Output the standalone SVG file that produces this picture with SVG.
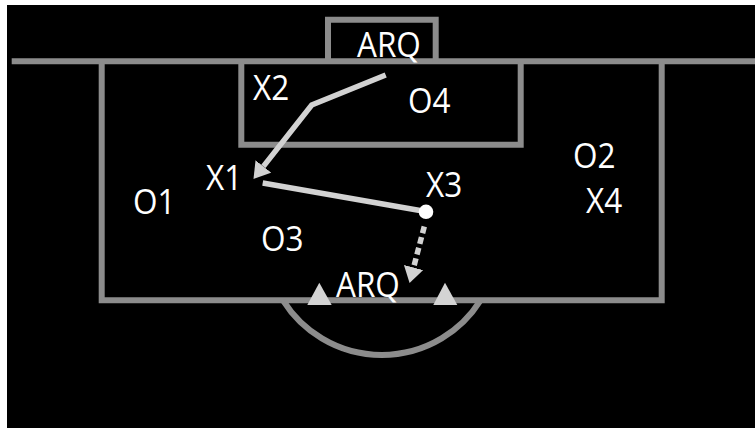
<svg xmlns="http://www.w3.org/2000/svg" width="755" height="428" viewBox="0 0 755 428">
  <defs>
    <style>
      .field { fill: none; stroke: #8c8c8c; stroke-width: 6; }
      .conn { fill: none; stroke: #d2d2d2; stroke-width: 5.5; }
      .dash { stroke-dasharray: 7 4; }
      .lbl { font-family: "Open Sans", "Noto Sans", sans-serif; font-size: 35px; fill: #ffffff; }
      .cone { fill: #d3d3d3; }
    </style>
    <marker id="head" markerUnits="userSpaceOnUse" viewBox="0 0 16 20" markerWidth="16" markerHeight="20" refX="0" refY="10" orient="auto">
      <path d="M0,0 L16,10 L0,20 Z" fill="#d2d2d2"/>
    </marker>
  </defs>
  <rect x="0" y="0" width="755" height="428" fill="#ffffff"/>
  <rect x="7" y="5" width="748" height="423" fill="#000000"/>

  <g id="pitch">
    <path class="field" d="M11.7,61.3 H755"/>
    <path class="field" d="M328,61.3 V19.7 H435.7 V61.3"/>
    <path class="field" d="M241.3,61.3 V144.7 H520.7 V61.3"/>
    <path class="field" d="M101.7,61.3 V300.3 H661.7 V61.3"/>
    <path class="field" d="M283,300.3 A116.6 116.6 0 0 0 480.5 300.3"/>
    <polygon class="cone" points="319.3,282.7 307.3,305 331.7,305"/>
    <polygon class="cone" points="445,282.7 433.3,305 457.3,305"/>
  </g>

  <g id="connectors">
    <polyline class="conn" points="385.7,75 311.7,105 263.4,166.4" marker-end="url(#head)"/>
    <line class="conn" x1="262.7" y1="183" x2="420" y2="210.5"/>
    <line class="conn dash" x1="424.3" y1="226.5" x2="413.6" y2="267.5" marker-end="url(#head)"/>
  </g>

  <g id="ball"><circle cx="426" cy="211.8" r="7.3" fill="#ffffff"/></g>

  <g id="arq-top"><text class="lbl" transform="translate(357,57) scale(0.9,1)">ARQ</text></g>
  <g id="x2"><text class="lbl" transform="translate(253,100) scale(0.9,1)">X2</text></g>
  <g id="o4"><text class="lbl" transform="translate(408,112.8) scale(0.9,1)">O4</text></g>
  <g id="x1"><text class="lbl" transform="translate(206,189.5) scale(0.9,1)">X1</text></g>
  <g id="o1"><text class="lbl" transform="translate(133,213.5) scale(0.9,1)">O1</text></g>
  <g id="o3"><text class="lbl" transform="translate(261,251) scale(0.9,1)">O3</text></g>
  <g id="x3"><text class="lbl" transform="translate(426,196.8) scale(0.9,1)">X3</text></g>
  <g id="o2"><text class="lbl" transform="translate(573,167.8) scale(0.9,1)">O2</text></g>
  <g id="x4"><text class="lbl" transform="translate(586,213) scale(0.9,1)">X4</text></g>
  <g id="arq-bottom"><text class="lbl" transform="translate(336,296.7) scale(0.9,1)">ARQ</text></g>
</svg>
